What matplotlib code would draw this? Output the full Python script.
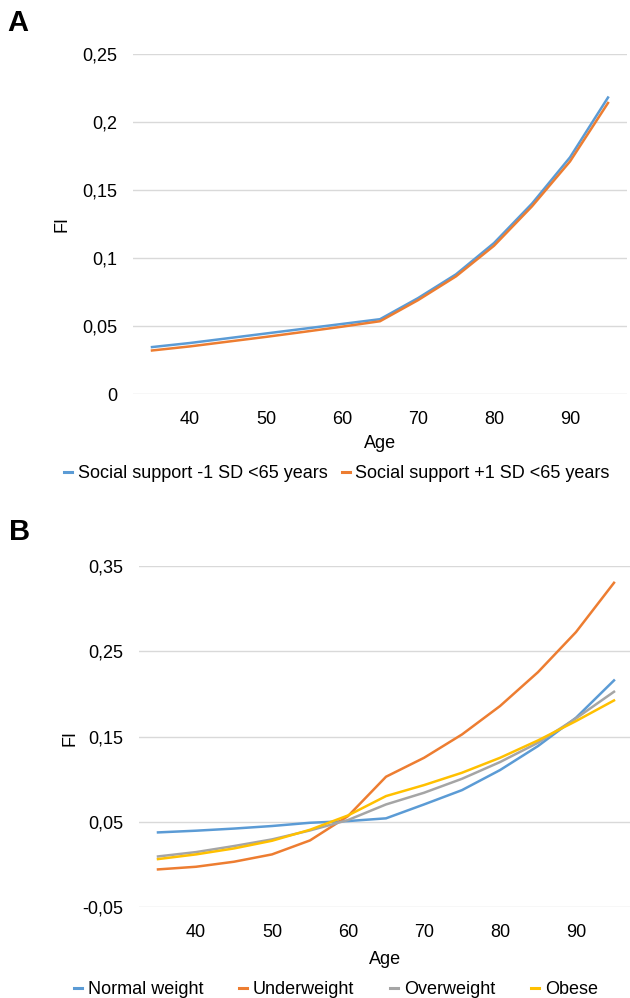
import matplotlib
matplotlib.use("Agg")
import matplotlib.pyplot as plt
from matplotlib.lines import Line2D
from matplotlib.ticker import FuncFormatter

plt.rcParams['font.family'] = ['Liberation Sans', 'DejaVu Sans']

# Data
ages = [35, 40, 45, 50, 55, 60, 65, 70, 75, 80, 85, 90, 95]

# Panel A
ss_minus = [0.0345, 0.0375, 0.041, 0.0445, 0.048, 0.0515, 0.055, 0.0705, 0.088, 0.111, 0.140, 0.174, 0.218]
ss_plus = [0.032, 0.035, 0.0385, 0.042, 0.0457, 0.0495, 0.0535, 0.069, 0.0865, 0.109, 0.138, 0.171, 0.214]
labels_a = ["Social support -1 SD <65 years", "Social support +1 SD <65 years"]

# Panel B
normal = [0.0375, 0.0395, 0.042, 0.045, 0.0488, 0.0508, 0.054, 0.0703, 0.0871, 0.1106, 0.1388, 0.172, 0.2158]
under = [-0.0059, -0.0028, 0.0031, 0.0117, 0.0281, 0.0566, 0.1028, 0.125, 0.1524, 0.1857, 0.2255, 0.2725, 0.3303]
over = [0.0093, 0.0144, 0.0215, 0.0293, 0.0398, 0.052, 0.0703, 0.084, 0.1004, 0.12, 0.1427, 0.1713, 0.2025]
obese = [0.0062, 0.0117, 0.0187, 0.0277, 0.0406, 0.0574, 0.0801, 0.093, 0.1075, 0.125, 0.1454, 0.1681, 0.1923]
labels_b = ["Normal weight", "Underweight", "Overweight", "Obese"]

xticks = [40, 50, 60, 70, 80, 90]
yticks_a = [0, 0.05, 0.1, 0.15, 0.2, 0.25]
yticks_b = [-0.05, 0.05, 0.15, 0.25, 0.35]

colors = ['#5B9BD5', '#ED7D31', '#A5A5A5', '#FFC000']

W, H = 630, 998
FS = 13
fig = plt.figure(figsize=(W / 100, H / 100), dpi=100)


def comma(v, pos):
    s = f"{v:.2f}".rstrip('0').rstrip('.')
    if s == "-0":
        s = "0"
    return s.replace('.', ',')


def style(ax, yticks):
    for sp in ax.spines.values():
        sp.set_visible(False)
    ax.set_xlim(32.5, 97.5)
    ax.set_xticks(xticks)
    ax.set_yticks(yticks)
    ax.set_ylim(yticks[0], yticks[-1])
    ax.yaxis.set_major_formatter(FuncFormatter(comma))
    ax.tick_params(length=0, labelsize=FS, colors='#000000')
    ax.tick_params(axis='x', pad=12)
    ax.tick_params(axis='y', pad=11)
    ax.grid(axis='y', color='#D9D9D9', linewidth=1.0)
    ax.set_axisbelow(True)


# Panel A
axA = fig.add_axes([133 / W, 1 - 394 / H, 494 / W, 340 / H])
style(axA, yticks_a)
axA.plot(ages, ss_minus, color=colors[0], lw=1.8, label=labels_a[0])
axA.plot(ages, ss_plus, color=colors[1], lw=1.8, label=labels_a[1])
fig.text(380 / W, 1 - 443 / H, "Age", ha='center', va='center', fontsize=FS)
fig.text(62 / W, 1 - 224 / H, "FI", ha='center', va='center', rotation=90, fontsize=FS)
fig.text(18 / W, 1 - 23 / H, "A", ha='center', va='center', fontsize=21, fontweight='bold')
hA = [Line2D([], [], color=c, lw=2.2) for c in colors[:2]]
fig.legend(hA, labels_a, loc='center', bbox_to_anchor=(337 / W, 1 - 474 / H), ncol=2,
           frameon=False, fontsize=FS, handlelength=0.45, handletextpad=0.3, columnspacing=0.8)

# Panel B
axB = fig.add_axes([139 / W, 1 - 907 / H, 494 / W, 341 / H])
style(axB, yticks_b)
for vals, c, lab in zip([normal, under, over, obese], colors, labels_b):
    axB.plot(ages, vals, color=c, lw=1.8, label=lab)
fig.text(385 / W, 1 - 960 / H, "Age", ha='center', va='center', fontsize=FS)
fig.text(70 / W, 1 - 738 / H, "FI", ha='center', va='center', rotation=90, fontsize=FS)
fig.text(20 / W, 1 - 532 / H, "B", ha='center', va='center', fontsize=21, fontweight='bold')
hB = [Line2D([], [], color=c, lw=2.2) for c in colors]
fig.legend(hB, labels_b, loc='center', bbox_to_anchor=(336 / W, 1 - 990 / H), ncol=4,
           frameon=False, fontsize=FS, handlelength=0.45, handletextpad=0.3, columnspacing=2.0)

fig.savefig("out.png", dpi=100)
